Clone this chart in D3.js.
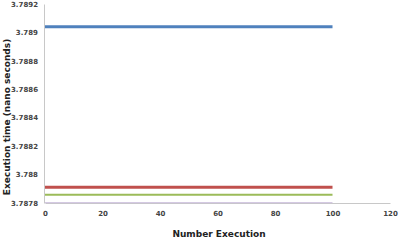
<!DOCTYPE html>
<html lang="en">
<head>
  <meta charset="UTF-8">
  <title>Execution time chart</title>
  <script src="https://d3js.org/d3.v7.min.js"></script>
  <style>
    body { margin: 0; background: #fff; }
    .tick text { font-family: "DejaVu Sans", sans-serif; font-size: 7px; font-weight: bold; fill: #444; }
    .title { font-family: "DejaVu Sans", sans-serif; font-size: 9px; font-weight: bold; fill: #222; }
  </style>
</head>
<body>
  <svg id="chart" width="401" height="240"></svg>
  <script>
    // series: constant execution time over runs 0..100
    const runs = [0, 100];
    const blueSeries = [3.78904, 3.78904];
    const redSeries = [3.78791, 3.78791];
    const greenSeries = [3.787858, 3.787858];
    const purpleSeries = [3.787802, 3.787802];
    const xTicks = [0, 20, 40, 60, 80, 100, 120];
    const yTicks = [3.7878, 3.788, 3.7882, 3.7884, 3.7886, 3.7888, 3.789, 3.7892];

    const series = [
      { values: purpleSeries, color: "#c9bcdb", width: 1 },
      { values: greenSeries, color: "#9bbb59", width: 2 },
      { values: redSeries, color: "#c0504d", width: 3 },
      { values: blueSeries, color: "#4f81bd", width: 3 }
    ];

    const svg = d3.select("#chart");
    const x = d3.scaleLinear().domain([0, 120]).range([45, 390]);
    const y = d3.scaleLinear().domain([3.7878, 3.7892]).range([203, 4]);

    // axes
    svg.append("g")
      .attr("transform", "translate(0,203)")
      .call(d3.axisBottom(x).tickValues(xTicks).tickSize(0).tickPadding(8))
      .call(g => g.select(".domain").attr("stroke", "#c8c8c8"));

    svg.append("g")
      .attr("transform", "translate(44,0)")
      .call(d3.axisLeft(y).tickValues(yTicks).tickSize(0).tickPadding(6)
        .tickFormat(d => String(+d.toFixed(4))))
      .call(g => g.select(".domain").attr("stroke", "#c8c8c8"));

    // lines
    const line = d3.line()
      .x((d, i) => x(runs[i]))
      .y(d => y(d));

    svg.selectAll(".series")
      .data(series)
      .enter()
      .append("path")
      .attr("class", "series")
      .attr("fill", "none")
      .attr("stroke", d => d.color)
      .attr("stroke-width", d => d.width)
      .attr("d", d => line(d.values));

    // titles
    svg.append("text")
      .attr("class", "title")
      .attr("x", 219)
      .attr("y", 237)
      .attr("text-anchor", "middle")
      .text("Number Execution");

    svg.append("text")
      .attr("class", "title")
      .attr("transform", "translate(10,117) rotate(-90)")
      .attr("text-anchor", "middle")
      .text("Execution time (nano seconds)");
  </script>
</body>
</html>
